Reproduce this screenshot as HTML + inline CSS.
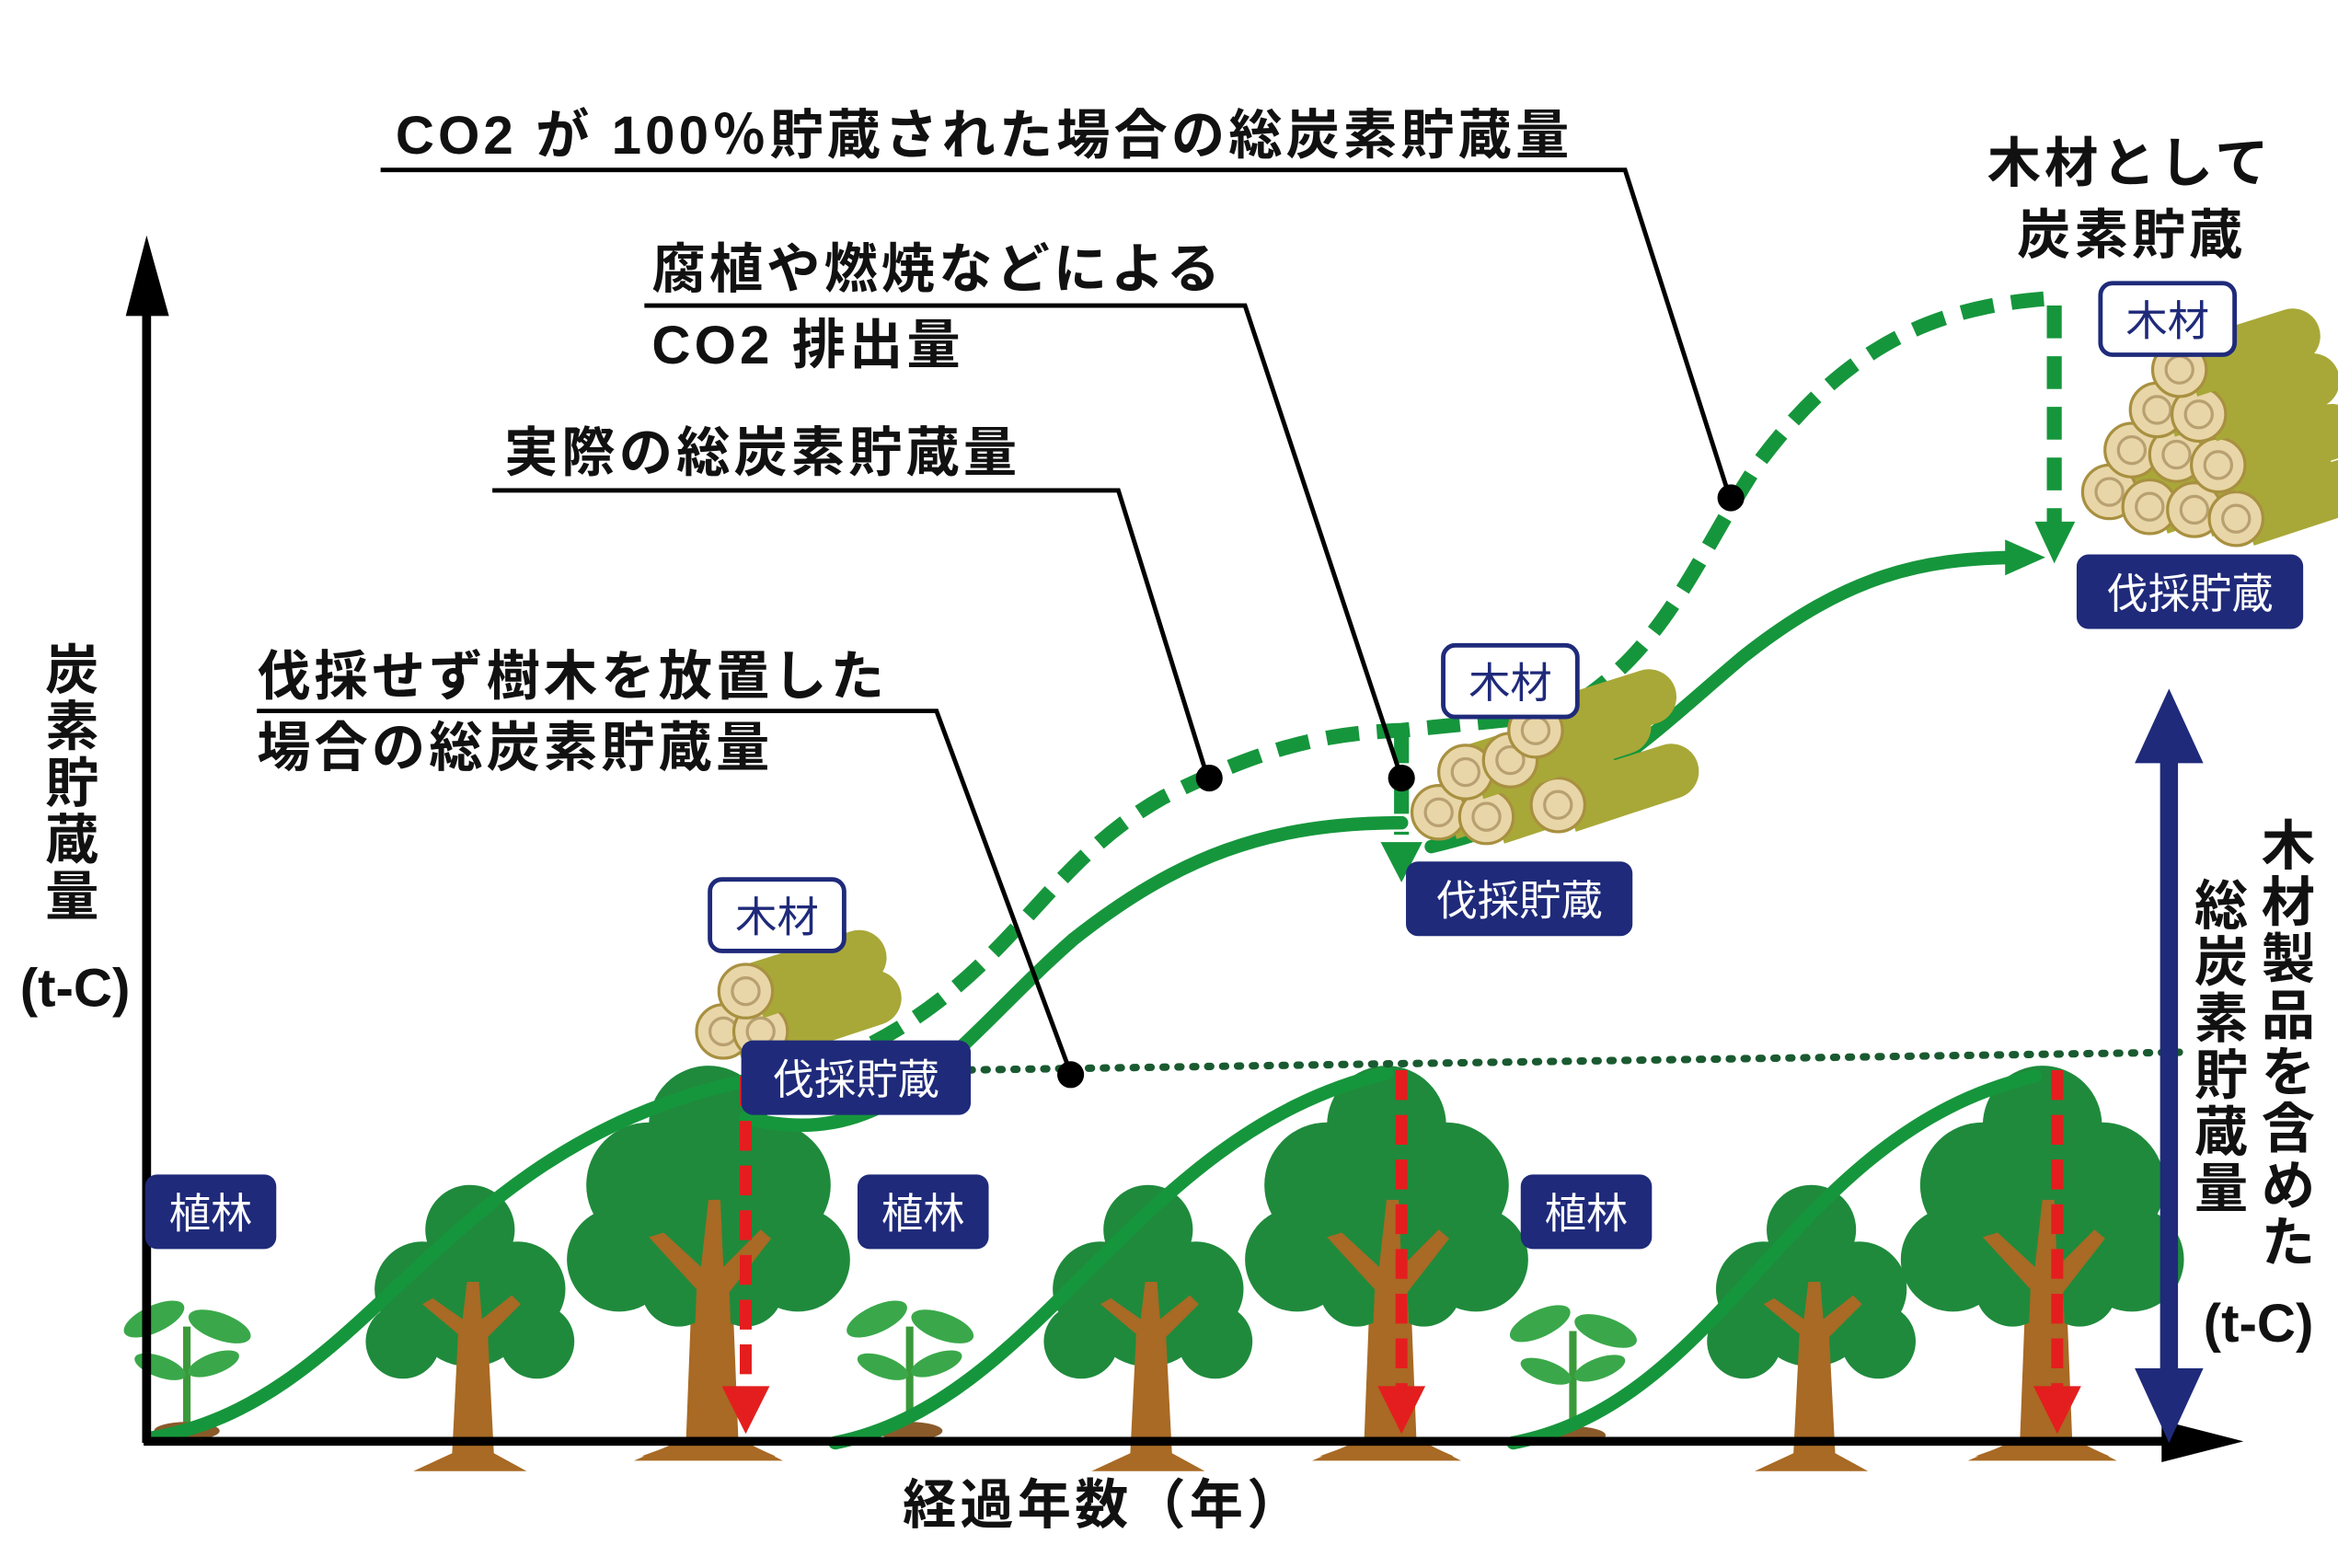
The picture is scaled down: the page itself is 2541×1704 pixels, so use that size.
<!DOCTYPE html>
<html><head><meta charset="utf-8"><style>
html,body{margin:0;padding:0;background:#fff;}
svg{display:block;}
text{font-family:"Liberation Sans","Noto Sans CJK JP",sans-serif;}
.t{font-size:36px;font-weight:bold;fill:#111;letter-spacing:2.5px;}
.b{font-size:28px;fill:#fff;}
.w{font-size:28px;fill:#1f2a7a;}
</style></head><body>
<svg width="2541" height="1704" viewBox="0 0 1568 1052" xmlns="http://www.w3.org/2000/svg">
<defs>
<g id="big">
  <path d="M-15,250 L-10,120 L-55,80 L-45,75 L-8,100 L-5,40 L10,40 L12,100 L50,70 L58,76 L15,125 L20,250 L50,265 L-50,265 Z" fill="#a86a24"/>
  <g fill="#1f8a3c">
    <circle cx="0" cy="40" r="40"/><circle cx="-40" cy="80" r="42"/><circle cx="40" cy="80" r="42"/>
    <circle cx="-60" cy="130" r="35"/><circle cx="60" cy="130" r="35"/><circle cx="0" cy="100" r="55"/>
    <circle cx="-20" cy="150" r="25"/><circle cx="25" cy="150" r="25"/>
  </g>
  <path d="M-12,250 L-8,150 L-40,115 L-30,112 L-5,135 L0,90 L8,90 L10,135 L35,110 L42,116 L14,152 L18,250 L45,262 L-45,262 Z" fill="#a86a24"/>
</g>
<g id="small">
  <g fill="#1f8a3c">
    <circle cx="0" cy="30" r="30"/><circle cx="-32" cy="70" r="32"/><circle cx="32" cy="70" r="32"/>
    <circle cx="-45" cy="105" r="25"/><circle cx="45" cy="105" r="25"/><circle cx="0" cy="80" r="42"/>
  </g>
  <path d="M-12,180 L-8,100 L-32,80 L-25,76 L-5,90 L-2,65 L6,65 L8,90 L28,74 L34,80 L12,102 L16,180 L38,192 L-38,192 Z" fill="#a86a24"/>
</g>
<g id="seed">
  <path d="M0,95 L0,25" stroke="#3a9a3a" stroke-width="5"/>
  <ellipse cx="-22" cy="20" rx="22" ry="9" fill="#3aa84a" transform="rotate(-25 -22 20)"/>
  <ellipse cx="22" cy="25" rx="22" ry="9" fill="#3aa84a" transform="rotate(20 22 25)"/>
  <ellipse cx="-18" cy="52" rx="18" ry="7" fill="#3aa84a" transform="rotate(20 -18 52)"/>
  <ellipse cx="18" cy="50" rx="18" ry="7" fill="#3aa84a" transform="rotate(-20 18 50)"/>
  <ellipse cx="0" cy="95" rx="22" ry="6" fill="#8a5a2a"/>
</g>
<g id="log">
  <path d="M0,-18 L70,-40 A18,18 0 0 1 82,-5 L12,18 Z" fill="#a8a838"/>
  <circle cx="0" cy="0" r="18" fill="#e8d6a8" stroke="#a89040" stroke-width="2"/>
  <circle cx="0" cy="0" r="9" fill="none" stroke="#b8a070" stroke-width="2"/>
</g>
</defs>

<use href="#seed" x="125" y="865"/><use href="#seed" x="610" y="865"/><use href="#seed" x="1055" y="868"/>
<use href="#small" x="315" y="795"/><use href="#small" x="770" y="795"/><use href="#small" x="1215" y="795"/>
<use href="#big" x="475" y="715"/><use href="#big" x="930" y="715"/><use href="#big" x="1370" y="715"/>

<g fill="none" stroke="#16963c" stroke-width="9" stroke-linecap="round">
<path d="M100,965 C250,940 290,770 500,725"/>
<path d="M560,968 C700,940 760,760 930,720"/>
<path d="M1015,968 C1160,940 1200,760 1365,722"/>
<path d="M500,750 C600,775 640,700 720,630 C790,575 850,552 940,552"/>
<path d="M960,568 C1060,545 1110,490 1170,440 C1240,385 1290,375 1350,374"/>
</g>
<path d="M1345,362 L1372,374 L1345,386 Z" fill="#16963c"/>
<g fill="none" stroke="#16963c" stroke-width="10" stroke-dasharray="22,12">
<path d="M585,700 C680,650 700,580 780,535 C850,500 890,492 940,490 L1060,478"/>
<path d="M1060,470 C1120,430 1140,370 1180,310 C1240,230 1300,205 1378,200 L1378,355"/>
<path d="M940,490 L940,560"/>
</g>
<path d="M1365,350 L1392,350 L1378,378 Z" fill="#16963c"/>
<path d="M926,565 L954,565 L940,592 Z" fill="#16963c"/>
<path d="M640,718 L1462,706" stroke="#1a5a30" stroke-width="5" stroke-dasharray="2,8" stroke-linecap="round"/>
<g stroke="#e41e1e" stroke-width="8" stroke-dasharray="20,10">
<path d="M500,722 L500,935"/><path d="M940,718 L940,935"/><path d="M1380,718 L1380,935"/>
</g>
<g fill="#e41e1e">
<path d="M484,930 L516,930 L500,962 Z"/><path d="M924,930 L956,930 L940,962 Z"/><path d="M1364,930 L1396,930 L1380,962 Z"/>
</g>

<use href="#log" x="485" y="692"/><use href="#log" x="510" y="692"/><use href="#log" x="500" y="665"/>
<use href="#log" x="965" y="545"/><use href="#log" x="997" y="548"/><use href="#log" x="1045" y="540"/><use href="#log" x="983" y="518"/><use href="#log" x="1013" y="510"/><use href="#log" x="1030" y="490"/>
<use href="#log" x="1415" y="330"/><use href="#log" x="1442" y="340"/><use href="#log" x="1472" y="342"/><use href="#log" x="1500" y="348"/>
<use href="#log" x="1430" y="302"/><use href="#log" x="1460" y="305"/><use href="#log" x="1488" y="312"/>
<use href="#log" x="1447" y="275"/><use href="#log" x="1475" y="278"/><use href="#log" x="1462" y="248"/>

<path d="M98,968 L98,200" stroke="#000" stroke-width="6"/>
<path d="M84,212 L98,158 L113,212 Z" fill="#000"/>
<path d="M96,967 L1460,967" stroke="#000" stroke-width="6"/>
<path d="M1450,953 L1505,967 L1450,981 Z" fill="#000"/>
<path d="M1455,500 L1455,930" stroke="#1f2a7a" stroke-width="12"/>
<path d="M1432,512 L1455,462 L1478,512 Z" fill="#1f2a7a"/>
<path d="M1432,918 L1455,968 L1478,918 Z" fill="#1f2a7a"/>

<g stroke="#000" stroke-width="3" fill="none">
<path d="M255,114 L1090,114 L1160,333"/>
<path d="M432,205 L835,205 L940,522"/>
<path d="M330,329 L750,329 L810,522"/>
<path d="M172,477 L628,477 L718,720"/>
</g>
<g fill="#000"><circle cx="1161" cy="334" r="9"/><circle cx="940" cy="522" r="9"/><circle cx="811" cy="522" r="9"/><circle cx="718" cy="721" r="9"/></g>

<text class="t" x="265" y="103">CO2 が 100％貯蔵された場合の総炭素貯蔵量</text>
<text class="t" x="437" y="193">腐植や燃焼などによる</text>
<text class="t" x="437" y="244">CO2 排出量</text>
<text class="t" x="338" y="316">実際の総炭素貯蔵量</text>
<text class="t" x="172" y="466">伐採せず樹木を放置した</text>
<text class="t" x="172" y="514">場合の総炭素貯蔵量</text>
<text class="t" x="1333" y="122">木材として</text>
<text class="t" x="1353" y="170">炭素貯蔵</text>
<text class="t" x="740" y="1022" text-anchor="middle">経過年数（年）</text>
<g class="t" text-anchor="middle" style="letter-spacing:0">
<text x="48" y="462">炭</text><text x="48" y="500">素</text><text x="48" y="538">貯</text><text x="48" y="576">蔵</text><text x="48" y="614">量</text>
<text x="50" y="675">(t-C)</text>
<text x="1535" y="580">木</text><text x="1535" y="618">材</text><text x="1535" y="656">製</text><text x="1535" y="694">品</text><text x="1535" y="732">を</text><text x="1535" y="770">含</text><text x="1535" y="808">め</text><text x="1535" y="846">た</text>
<text x="1490" y="620">総</text><text x="1490" y="658">炭</text><text x="1490" y="696">素</text><text x="1490" y="734">貯</text><text x="1490" y="772">蔵</text><text x="1490" y="810">量</text>
<text x="1515" y="900">(t-C)</text>
</g>

<g fill="#1f2a7a">
<rect x="97" y="788" width="88" height="50" rx="8"/><rect x="575" y="788" width="88" height="50" rx="8"/><rect x="1020" y="788" width="88" height="50" rx="8"/>
<rect x="497" y="698" width="154" height="50" rx="8"/><rect x="943" y="578" width="152" height="50" rx="8"/><rect x="1393" y="372" width="152" height="50" rx="8"/>
</g>
<text class="b" x="141" y="824" text-anchor="middle">植林</text><text class="b" x="619" y="824" text-anchor="middle">植林</text><text class="b" x="1064" y="824" text-anchor="middle">植林</text>
<text class="b" x="574" y="734" text-anchor="middle">伐採貯蔵</text><text class="b" x="1019" y="614" text-anchor="middle">伐採貯蔵</text><text class="b" x="1469" y="408" text-anchor="middle">伐採貯蔵</text>
<g fill="#fff" stroke="#1f2a7a" stroke-width="3">
<rect x="476" y="590" width="90" height="48" rx="8"/><rect x="968" y="433" width="90" height="48" rx="8"/><rect x="1409" y="190" width="90" height="48" rx="8"/>
</g>
<text class="w" x="521" y="625" text-anchor="middle">木材</text><text class="w" x="1013" y="468" text-anchor="middle">木材</text><text class="w" x="1454" y="225" text-anchor="middle">木材</text>
</svg>
</body></html>
